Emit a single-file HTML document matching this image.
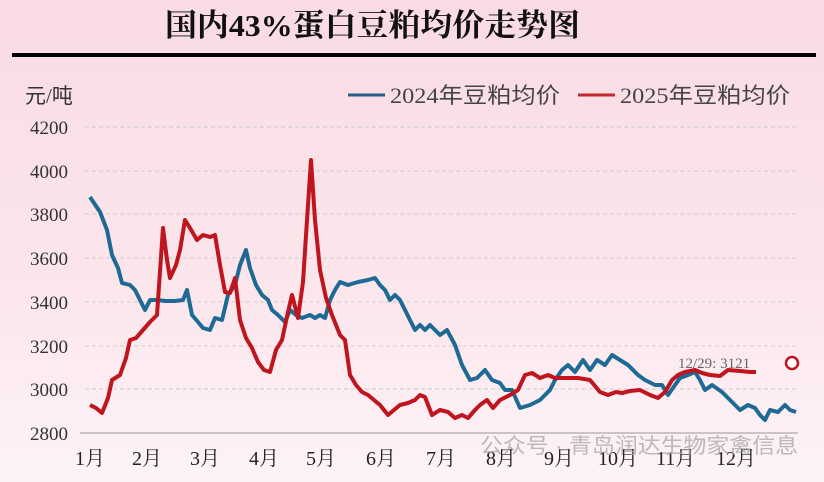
<!DOCTYPE html><html><head><meta charset="utf-8"><style>
body{margin:0;width:824px;height:482px;overflow:hidden;background:linear-gradient(#f9dbe3,#fbe6ec 60%,#fdf3f6);font-family:"Liberation Serif","Noto Serif CJK SC",serif}
</style></head><body>
<svg width="824" height="482" xmlns="http://www.w3.org/2000/svg" style="position:absolute;left:0;top:0">
<text x="165" y="36" font-size="31" font-weight="bold" fill="#111" textLength="415" lengthAdjust="spacingAndGlyphs" font-family="Liberation Serif,Noto Serif CJK SC,serif">国内43%蛋白豆粕均价走势图</text>
<rect x="12" y="53" width="804" height="4" fill="#000"/>
<g font-size="19" fill="#333" font-family="Liberation Serif,Noto Sans CJK SC,serif">
<text x="25" y="103" font-size="21">元/吨</text>
<text x="30" y="134">4200</text><text x="30" y="178">4000</text><text x="30" y="221">3800</text><text x="30" y="265">3600</text><text x="30" y="309">3400</text><text x="30" y="353">3200</text><text x="30" y="396">3000</text><text x="30" y="440">2800</text>
<text x="390" y="103" fill="#444" font-size="22" textLength="170" lengthAdjust="spacingAndGlyphs">2024年豆粕均价</text><text x="620" y="103" fill="#444" font-size="22" textLength="170" lengthAdjust="spacingAndGlyphs">2025年豆粕均价</text>
</g>
<line x1="348" y1="95" x2="385" y2="95" stroke="#2a5a8a" stroke-width="3"/>
<line x1="578" y1="95" x2="615" y2="95" stroke="#c0282d" stroke-width="3"/>
<g stroke="#ccc" stroke-dasharray="4,3" stroke-width="1">
<line x1="85" y1="127" x2="798" y2="127"/><line x1="85" y1="171" x2="798" y2="171"/><line x1="85" y1="214" x2="798" y2="214"/><line x1="85" y1="258" x2="798" y2="258"/><line x1="85" y1="302" x2="798" y2="302"/><line x1="85" y1="346" x2="798" y2="346"/><line x1="85" y1="389" x2="798" y2="389"/>
</g>
<line x1="80" y1="433" x2="798" y2="433" stroke="#999" stroke-width="1"/>
<g font-size="20" fill="#222">
<text x="75" y="465">1月</text><text x="132" y="465">2月</text><text x="190" y="465">3月</text><text x="249" y="465">4月</text><text x="306" y="465">5月</text><text x="366" y="465">6月</text><text x="426" y="465">7月</text><text x="486" y="465">8月</text><text x="544" y="465">9月</text><text x="598" y="465">10月</text><text x="656" y="465">11月</text><text x="716" y="465">12月</text>
</g>
<polyline fill="none" stroke="#1e6a94" stroke-width="4" stroke-linejoin="round" points="90,197 100,212 107,230 112,255 118,268 122,283 130,285 135,290 140,300 145,310 150,300 158,300 165,301 175,301 183,300 187,290 192,315 198,322 203,328 210,330 215,318 222,320 228,295 235,285 240,265 246,250 250,268 256,285 262,295 268,300 272,310 278,315 285,322 290,310 296,315 302,318 310,315 315,318 320,315 325,318 330,300 335,290 340,282 348,285 358,282 368,280 375,278 380,285 385,290 390,300 395,295 400,300 405,310 410,320 415,330 420,325 425,330 430,325 440,335 447,330 455,345 462,365 470,380 477,378 485,370 492,380 500,383 505,390 512,390 520,408 530,405 540,400 550,390 555,380 562,370 568,365 575,372 583,360 590,370 597,360 605,365 612,355 620,360 628,365 638,375 645,380 655,385 662,385 668,395 675,385 680,378 688,375 695,372 700,380 705,390 712,385 722,392 730,400 740,410 748,405 755,408 760,415 765,420 770,410 778,412 785,405 790,410 796,412"/>
<polyline fill="none" stroke="#c0141e" stroke-width="4" stroke-linejoin="round" points="90,405 96,408 102,413 108,398 112,380 120,375 126,358 130,340 136,338 143,330 150,322 157,315 163,228 167,260 170,278 176,265 180,250 185,220 190,228 197,240 203,235 210,237 215,235 220,265 225,292 230,293 235,278 240,320 246,338 252,348 258,362 264,370 270,372 276,350 282,340 288,312 292,295 298,318 303,282 307,220 311,160 315,220 320,270 326,298 332,315 340,335 345,340 350,375 356,385 362,392 368,395 374,400 380,405 388,415 394,410 400,405 408,403 415,400 420,395 425,397 432,415 440,410 448,412 455,418 462,415 468,418 475,410 480,405 487,400 493,408 500,400 510,395 518,390 525,375 532,373 540,378 548,375 555,378 565,378 578,378 590,380 600,392 608,395 616,392 622,393 630,391 640,390 650,395 658,398 665,392 672,380 678,375 685,372 695,370 702,373 710,375 720,376 728,370 740,371 750,372 756,372"/>
<circle cx="792" cy="363" r="6" fill="#fff" stroke="#c0141e" stroke-width="2.5"/>
<text x="678" y="368" font-size="15" fill="#666">12/29: 3121</text>
<text x="480" y="453" font-size="21" fill="#aaa" opacity="0.8" textLength="318" lengthAdjust="spacingAndGlyphs" font-family="Liberation Sans,Noto Sans CJK SC,sans-serif">公众号 · 青岛润达生物家禽信息</text>
</svg>
</body></html>
